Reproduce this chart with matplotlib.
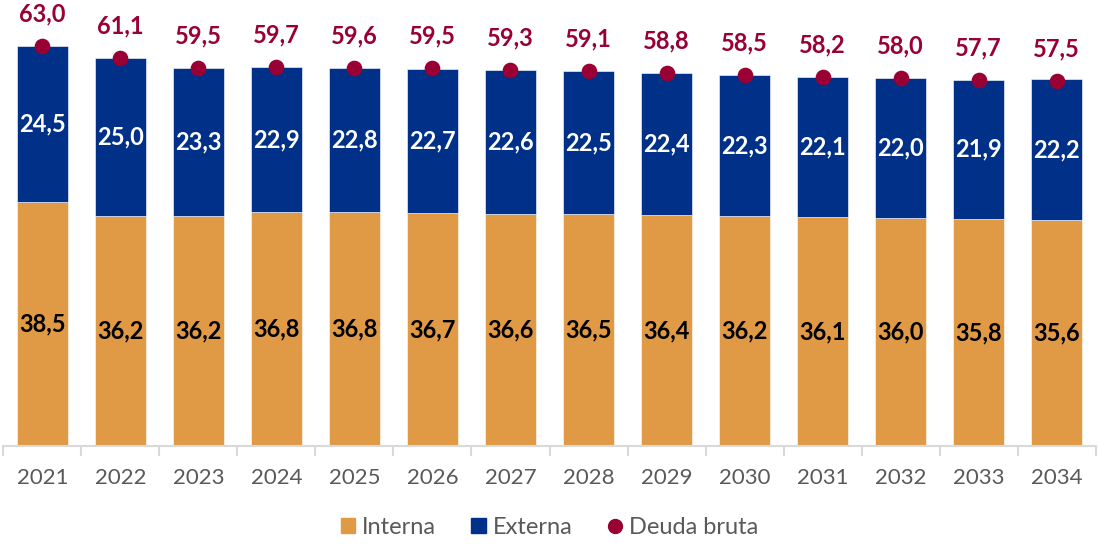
import numpy as np
import matplotlib.pyplot as plt
from matplotlib.lines import Line2D
from matplotlib.patches import Patch

anios = ['2021', '2022', '2023', '2024', '2025', '2026', '2027',
         '2028', '2029', '2030', '2031', '2032', '2033', '2034']
interna = [38.5, 36.2, 36.2, 36.8, 36.8, 36.7, 36.6, 36.5, 36.4, 36.2, 36.1, 36.0, 35.8, 35.6]
externa = [24.5, 25.0, 23.3, 22.9, 22.8, 22.7, 22.6, 22.5, 22.4, 22.3, 22.1, 22.0, 21.9, 22.2]
deuda_bruta = [63.0, 61.1, 59.5, 59.7, 59.6, 59.5, 59.3, 59.1, 58.8, 58.5, 58.2, 58.0, 57.7, 57.5]

c_int = '#E09A45'
c_ext = '#003087'
c_deuda = '#990033'
fuente = ['Lato', 'DejaVu Sans']

def fmt(v):
    return f"{v:.1f}".replace('.', ',')

fig = plt.figure(figsize=(10.99, 5.44), dpi=100)
ax = fig.add_axes([0.003, 0.18, 0.994, 0.817])

x = np.arange(len(anios))
ancho = 0.65
ax.bar(x, interna, ancho, color=c_int, edgecolor='white', linewidth=0.4)
ax.bar(x, externa, ancho, bottom=interna, color=c_ext, edgecolor='white', linewidth=0.4)
ax.scatter(x, deuda_bruta, s=105, color=c_deuda, zorder=3)

for i in range(len(anios)):
    ax.text(x[i], interna[i] / 2, fmt(interna[i]), ha='center', va='center',
            fontsize=17, fontweight='bold', color='black', family=fuente)
    ax.text(x[i], interna[i] + externa[i] / 2, fmt(externa[i]), ha='center', va='center',
            fontsize=17, fontweight='bold', color='white', family=fuente)
    ax.annotate(fmt(deuda_bruta[i]), (x[i], deuda_bruta[i]), xytext=(0, 23),
                textcoords='offset points', ha='center', va='center',
                fontsize=17, fontweight='bold', color=c_deuda, family=fuente)

ax.set_xlim(-0.5, len(anios) - 0.5)
ax.set_ylim(0, 70)
ax.set_yticks([])
for lado in ['top', 'right', 'left']:
    ax.spines[lado].set_visible(False)
ax.spines['bottom'].set_color('#D9D9D9')
ax.spines['bottom'].set_linewidth(1.5)

# ticks entre categorias
ax.set_xticks(np.arange(-0.5, len(anios), 1))
ax.set_xticklabels([])
ax.tick_params(axis='x', which='major', length=7, width=1.5, color='#D9D9D9')
ax.set_xticks(x, minor=True)
ax.set_xticklabels(anios, minor=True, fontsize=16, color='#595959', family=fuente)
ax.tick_params(axis='x', which='minor', length=0, pad=16)

handles = [Patch(color=c_int, label='Interna'),
           Patch(color=c_ext, label='Externa'),
           Line2D([], [], marker='o', linestyle='', color=c_deuda, markersize=10, label='Deuda bruta')]
fig.legend(handles=handles, loc='center', bbox_to_anchor=(0.5, 0.03), ncol=3, frameon=False,
           prop={'family': fuente, 'size': 17}, labelcolor='#595959',
           handlelength=0.6, handleheight=0.6, handletextpad=0.3, columnspacing=1.5)

fig.savefig('out.png', dpi=100)
